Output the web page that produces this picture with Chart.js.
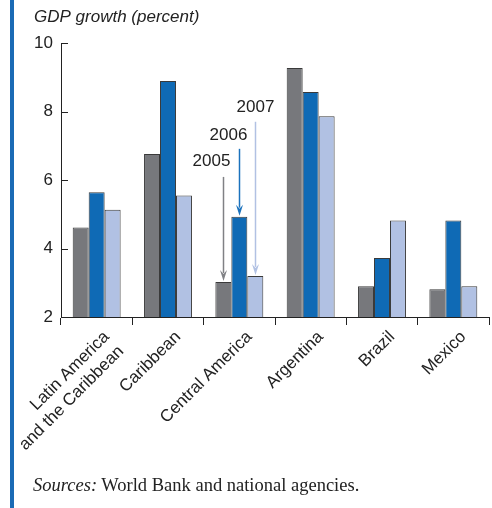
<!DOCTYPE html>
<html>
<head>
<meta charset="utf-8">
<script src="https://cdn.jsdelivr.net/npm/chart.js@4/dist/chart.umd.min.js"></script>
<style>
  body { margin: 0; background: #fff; }
  #wrap { position: relative; width: 492px; height: 508px; overflow: hidden; }
  #rule { position: absolute; left: 10px; top: 0; width: 4px; height: 508px; background: #1a6bb5; }
  #src { position: absolute; left: 33px; top: 475px; font: 18.5px "Liberation Serif", "DejaVu Serif", serif; color: #222; }
  canvas { position: absolute; left: 0; top: 0; }
</style>
</head>
<body>
<div id="wrap">
  <canvas id="gdp" width="492" height="508"></canvas>
  <div id="rule"></div>
  <div id="src"><i>Sources:</i> World Bank and national agencies.</div>
</div>
<script>
// categories and yearly growth rates
var regions = [['Latin America', 'and the Caribbean'], 'Caribbean', 'Central America', 'Argentina', 'Brazil', 'Mexico'];
var years = ['2005', '2006', '2007'];
var g2005 = [4.61, 6.76, 3.02, 9.27, 2.90, 2.81];
var g2006 = [5.64, 8.89, 4.93, 8.57, 3.72, 4.82];
var g2007 = [5.13, 5.55, 3.20, 7.86, 4.82, 2.90];
var yTicks = [2, 4, 6, 8, 10];

var fills = ['#77787c', '#0f6ab5', '#b1c1e3'];
var arrowCols = ['#808185', '#1b72bd', '#b1c1e3'];

// callout arrows above Central America: label y, arrow start y (in % units), label x shift
var calloutLabelY = [6.56, 7.31, 8.11];
var calloutStartY = [6.09, 6.91, 7.70];
var calloutShift = [-12, -11, 0];

var font = '"Liberation Sans", Arial, sans-serif';

var extras = {
  id: 'extras',
  afterDraw: function(chart) {
    var ctx = chart.ctx;
    var ya = chart.scales.y;
    var area = chart.chartArea;
    ctx.save();
    // title
    ctx.fillStyle = '#222';
    ctx.font = 'italic 17px ' + font;
    ctx.textAlign = 'left';
    ctx.textBaseline = 'alphabetic';
    ctx.fillText('GDP growth (percent)', 34, 22);
    // inward y ticks
    ctx.strokeStyle = '#222';
    ctx.lineWidth = 1;
    yTicks.forEach(function(v) {
      var py = Math.round(ya.getPixelForValue(v)) + 0.5;
      ctx.beginPath();
      ctx.moveTo(area.left, py);
      ctx.lineTo(area.left + 7, py);
      ctx.stroke();
    });
    // year callouts
    for (var i = 0; i < 3; i++) {
      var bar = chart.getDatasetMeta(i).data[2];
      var x = Math.round(bar.x) + 0.5;
      var y0 = ya.getPixelForValue(calloutStartY[i]);
      var y1 = bar.y - 1;
      ctx.strokeStyle = arrowCols[i];
      ctx.fillStyle = arrowCols[i];
      ctx.lineWidth = 1.5;
      ctx.beginPath();
      ctx.moveTo(x, y0);
      ctx.lineTo(x, y1 - 8);
      ctx.stroke();
      ctx.beginPath();
      ctx.moveTo(x - 3.5, y1 - 11);
      ctx.lineTo(x, y1 - 7);
      ctx.lineTo(x + 3.5, y1 - 11);
      ctx.lineTo(x, y1);
      ctx.closePath();
      ctx.fill();
      ctx.fillStyle = '#222';
      ctx.font = '17px ' + font;
      ctx.textAlign = 'center';
      ctx.textBaseline = 'middle';
      ctx.fillText(years[i], x + calloutShift[i], ya.getPixelForValue(calloutLabelY[i]));
    }
    ctx.restore();
  }
};

new Chart(document.getElementById('gdp'), {
  type: 'bar',
  data: {
    labels: regions,
    datasets: [
      { label: years[0], data: g2005, backgroundColor: fills[0] },
      { label: years[1], data: g2006, backgroundColor: fills[1] },
      { label: years[2], data: g2007, backgroundColor: fills[2] }
    ]
  },
  options: {
    responsive: false,
    animation: false,
    events: [],
    layout: { padding: { left: 0, top: 43, right: 3, bottom: 0 } },
    datasets: {
      bar: {
        borderColor: '#3a3a3a',
        borderWidth: 1,
        barPercentage: 1,
        categoryPercentage: 0.672
      }
    },
    plugins: { legend: { display: false }, tooltip: { enabled: false } },
    scales: {
      x: {
        grid: { drawOnChartArea: false, drawTicks: true, tickLength: 8, color: '#222', offset: true },
        border: { display: true, color: '#222', width: 1 },
        ticks: {
          color: '#222',
          font: { family: font, size: 17 },
          maxRotation: 45,
          minRotation: 45,
          padding: 2,
          labelOffset: 10,
          autoSkip: false
        },
        afterFit: function(s) {
          s.height = 191;
          s.paddingLeft = 0;
          s.paddingRight = 0;
        }
      },
      y: {
        min: 2,
        max: 10,
        afterBuildTicks: function(s) { s.ticks = yTicks.map(function(v) { return { value: v }; }); },
        grid: { drawOnChartArea: false, drawTicks: false },
        border: { display: true, color: '#222', width: 1 },
        ticks: { color: '#222', font: { family: font, size: 17 }, padding: 8 },
        afterFit: function(s) {
          s.width = 61;
          s.paddingTop = 0;
          s.paddingBottom = 0;
        }
      }
    }
  },
  plugins: [extras]
});
</script>
</body>
</html>
